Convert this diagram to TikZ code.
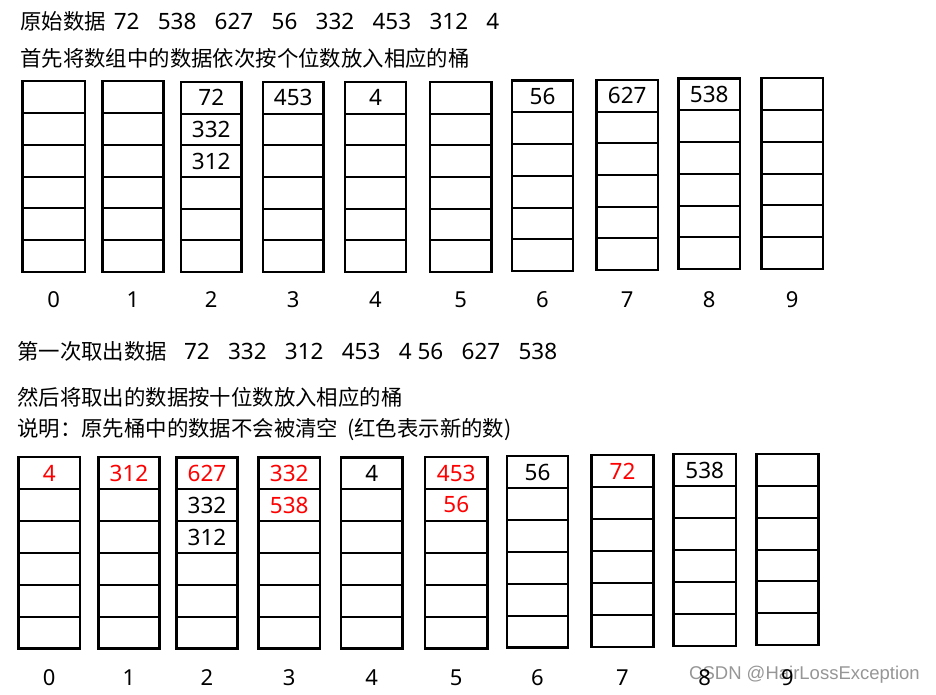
\documentclass[tikz,border=0pt]{standalone}
\usepackage{fontspec}
\setmainfont{Noto Sans}
\newfontfamily\cjk{Noto Sans CJK SC}
\newfontfamily\markfont{Liberation Sans}
\usetikzlibrary{calc, positioning}

\definecolor{newred}{RGB}{255,0,0}
\definecolor{markgray}{RGB}{150,150,150}

\newcommand{\zh}[1]{{\cjk\fontsize{21.4}{26}\selectfont #1}}
\newcommand{\gap}{\hspace{18.3pt}}

\tikzset{
    bucket/.style={draw, line width=2.6pt, outer sep=0pt, inner sep=0pt},
    cellline/.style={line width=2pt},
    num/.style={inner sep=0pt, font=\fontsize{22.5}{26}\selectfont},
    idx/.style={inner sep=0pt, font=\fontsize{22}{26}\selectfont},
    textline/.style={anchor=base west, inner sep=0pt, font=\fontsize{22.5}{26}\selectfont},
    wmark/.style={anchor=base west, inner sep=0pt, text=markgray, font=\markfont\fontsize{18.5}{22}\selectfont}
}

\begin{document}
\begin{tikzpicture}[x=1pt, y=-1pt]
    \useasboundingbox (0,0) rectangle (936,694);

    % first pass: ones digit
    \node[textline] (orig) at (20,29.8) {\zh{原始数据}\hspace{8pt}72\gap 538\gap 627\gap 56\gap 332\gap 453\gap 312\gap 4};
    \node[textline] (step1) at (20,66.3) {\zh{首先将数组中的数据依次按个位数放入相应的桶}};

    \foreach \i/\l/\t/\r/\b in {0/22.5/81/85/272, 1/102.5/81/163.5/272, 2/181/82/241.5/272,
            3/263/82/323.5/272, 4/345/82/406/272, 5/430/82/491.5/272, 6/512/80.5/573/271,
            7/596.5/80/658/270, 8/678.5/78.5/740/269, 9/761.5/78/823/269} {
        \node[bucket, minimum width={(\r-\l)*1pt}, minimum height={(\b-\t)*1pt}] (p\i) at ({(\l+\r)/2},{(\t+\b)/2}) {};
        \foreach \k in {1,...,5}
            \draw[cellline] ($(p\i.north west)!\k/6!(p\i.south west)$) -- ($(p\i.north east)!\k/6!(p\i.south east)$);
        \node[idx] (pl\i) at ({(\l+\r)/2},300) {\i};
    }

    \foreach \b/\k/\v in {2/1/72, 2/2/332, 2/3/312, 3/1/453, 4/1/4, 6/1/56, 7/1/627, 8/1/538}
        \node[num] (p\b-\k) at ($(p\b.north)!\k/6-1/12!(p\b.south)$) {\v};

    % second pass: tens digit
    \node[textline] (take1) at (17,359.5) {\zh{第一次取出数据}\hspace{17pt}72\gap 332\gap 312\gap 453\gap 4\hspace{6pt}56\gap 627\gap 538};
    \node[textline] (step2) at (17,405) {\zh{然后将取出的数据按十位数放入相应的桶}};
    \node[textline] (note) at (17,436.5) {\zh{说明：原先桶中的数据不会被清空\hspace{9pt}(红色表示新的数)}};

    \node[wmark] (csdn) at (689,679.6) {CSDN @HairLossException};

    \foreach \i/\l/\t/\r/\b in {0/18.5/457/80/648.5, 1/98.5/457/159.5/648.5, 2/176.5/457.5/237.5/648.5,
            3/258.5/457.5/320/648.5, 4/341/457.5/402.5/648.5, 5/425/457/487.5/648.5, 6/507/456/568/647.5,
            7/591.5/455/653.5/647, 8/673.5/454/736/646, 9/756.5/454/818.5/645} {
        \node[bucket, minimum width={(\r-\l)*1pt}, minimum height={(\b-\t)*1pt}] (q\i) at ({(\l+\r)/2},{(\t+\b)/2}) {};
        \foreach \k in {1,...,5}
            \draw[cellline] ($(q\i.north west)!\k/6!(q\i.south west)$) -- ($(q\i.north east)!\k/6!(q\i.south east)$);
        \node[idx] (ql\i) at ({(\l+\r)/2},678) {\i};
    }

    \foreach \b/\k/\v/\c in {0/1/4/newred, 1/1/312/newred, 2/1/627/newred, 2/2/332/black, 2/3/312/black,
            3/1/332/newred, 3/2/538/newred, 4/1/4/black, 5/1/453/newred, 5/2/56/newred,
            6/1/56/black, 7/1/72/newred, 8/1/538/black}
        \node[num, text=\c] (q\b-\k) at ($(q\b.north)!\k/6-1/12!(q\b.south)$) {\v};
\end{tikzpicture}
\end{document}
